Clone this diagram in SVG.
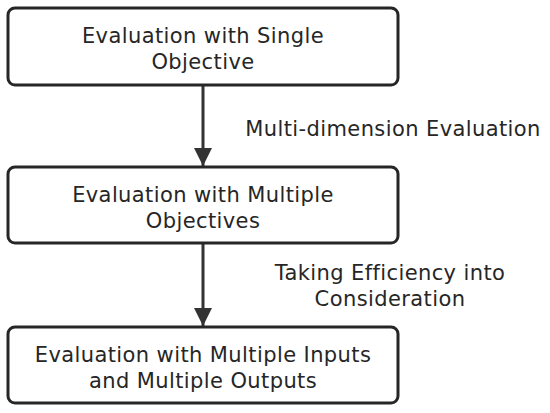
<svg xmlns="http://www.w3.org/2000/svg" width="550" height="413" viewBox="0 0 550 413">
<style>
.box{fill:#fff;stroke:#262626;stroke-width:3}
.t{font-family:"DejaVu Sans","Open Sans",sans-serif;font-size:21px;letter-spacing:0.4px;fill:#262626;text-anchor:middle}
.c{stroke:#333;stroke-width:3;fill:none}
</style>
<defs>
<marker id="ah" markerUnits="userSpaceOnUse" markerWidth="20" markerHeight="26" refX="18" refY="9" orient="auto" viewBox="0 0 20 18">
<path d="M0,0 L18,9 L0,18 Z" fill="#333"/>
</marker>
</defs>
<rect width="550" height="413" fill="#fff"/>
<g id="connectors">
<line class="c" x1="203" y1="86" x2="203" y2="166" marker-end="url(#ah)"/>
<line class="c" x1="203" y1="244" x2="203" y2="326" marker-end="url(#ah)"/>
<text class="t" x="393" y="136">Multi-dimension Evaluation</text>
<text class="t" y="280"><tspan x="390">Taking Efficiency into</tspan><tspan x="390" dy="26">Consideration</tspan></text>
</g>
<g id="node1">
<rect class="box" x="8" y="8" width="390" height="77" rx="7"/>
<text class="t" y="43"><tspan x="203">Evaluation with Single</tspan><tspan x="203" dy="26">Objective</tspan></text>
</g>
<g id="node2">
<rect class="box" x="8" y="167" width="390" height="76" rx="7"/>
<text class="t" y="202"><tspan x="203">Evaluation with Multiple</tspan><tspan x="203" dy="26">Objectives</tspan></text>
</g>
<g id="node3">
<rect class="box" x="8" y="327" width="390" height="76" rx="7"/>
<text class="t" y="362"><tspan x="203">Evaluation with Multiple Inputs</tspan><tspan x="203" dy="26">and Multiple Outputs</tspan></text>
</g>
</svg>
